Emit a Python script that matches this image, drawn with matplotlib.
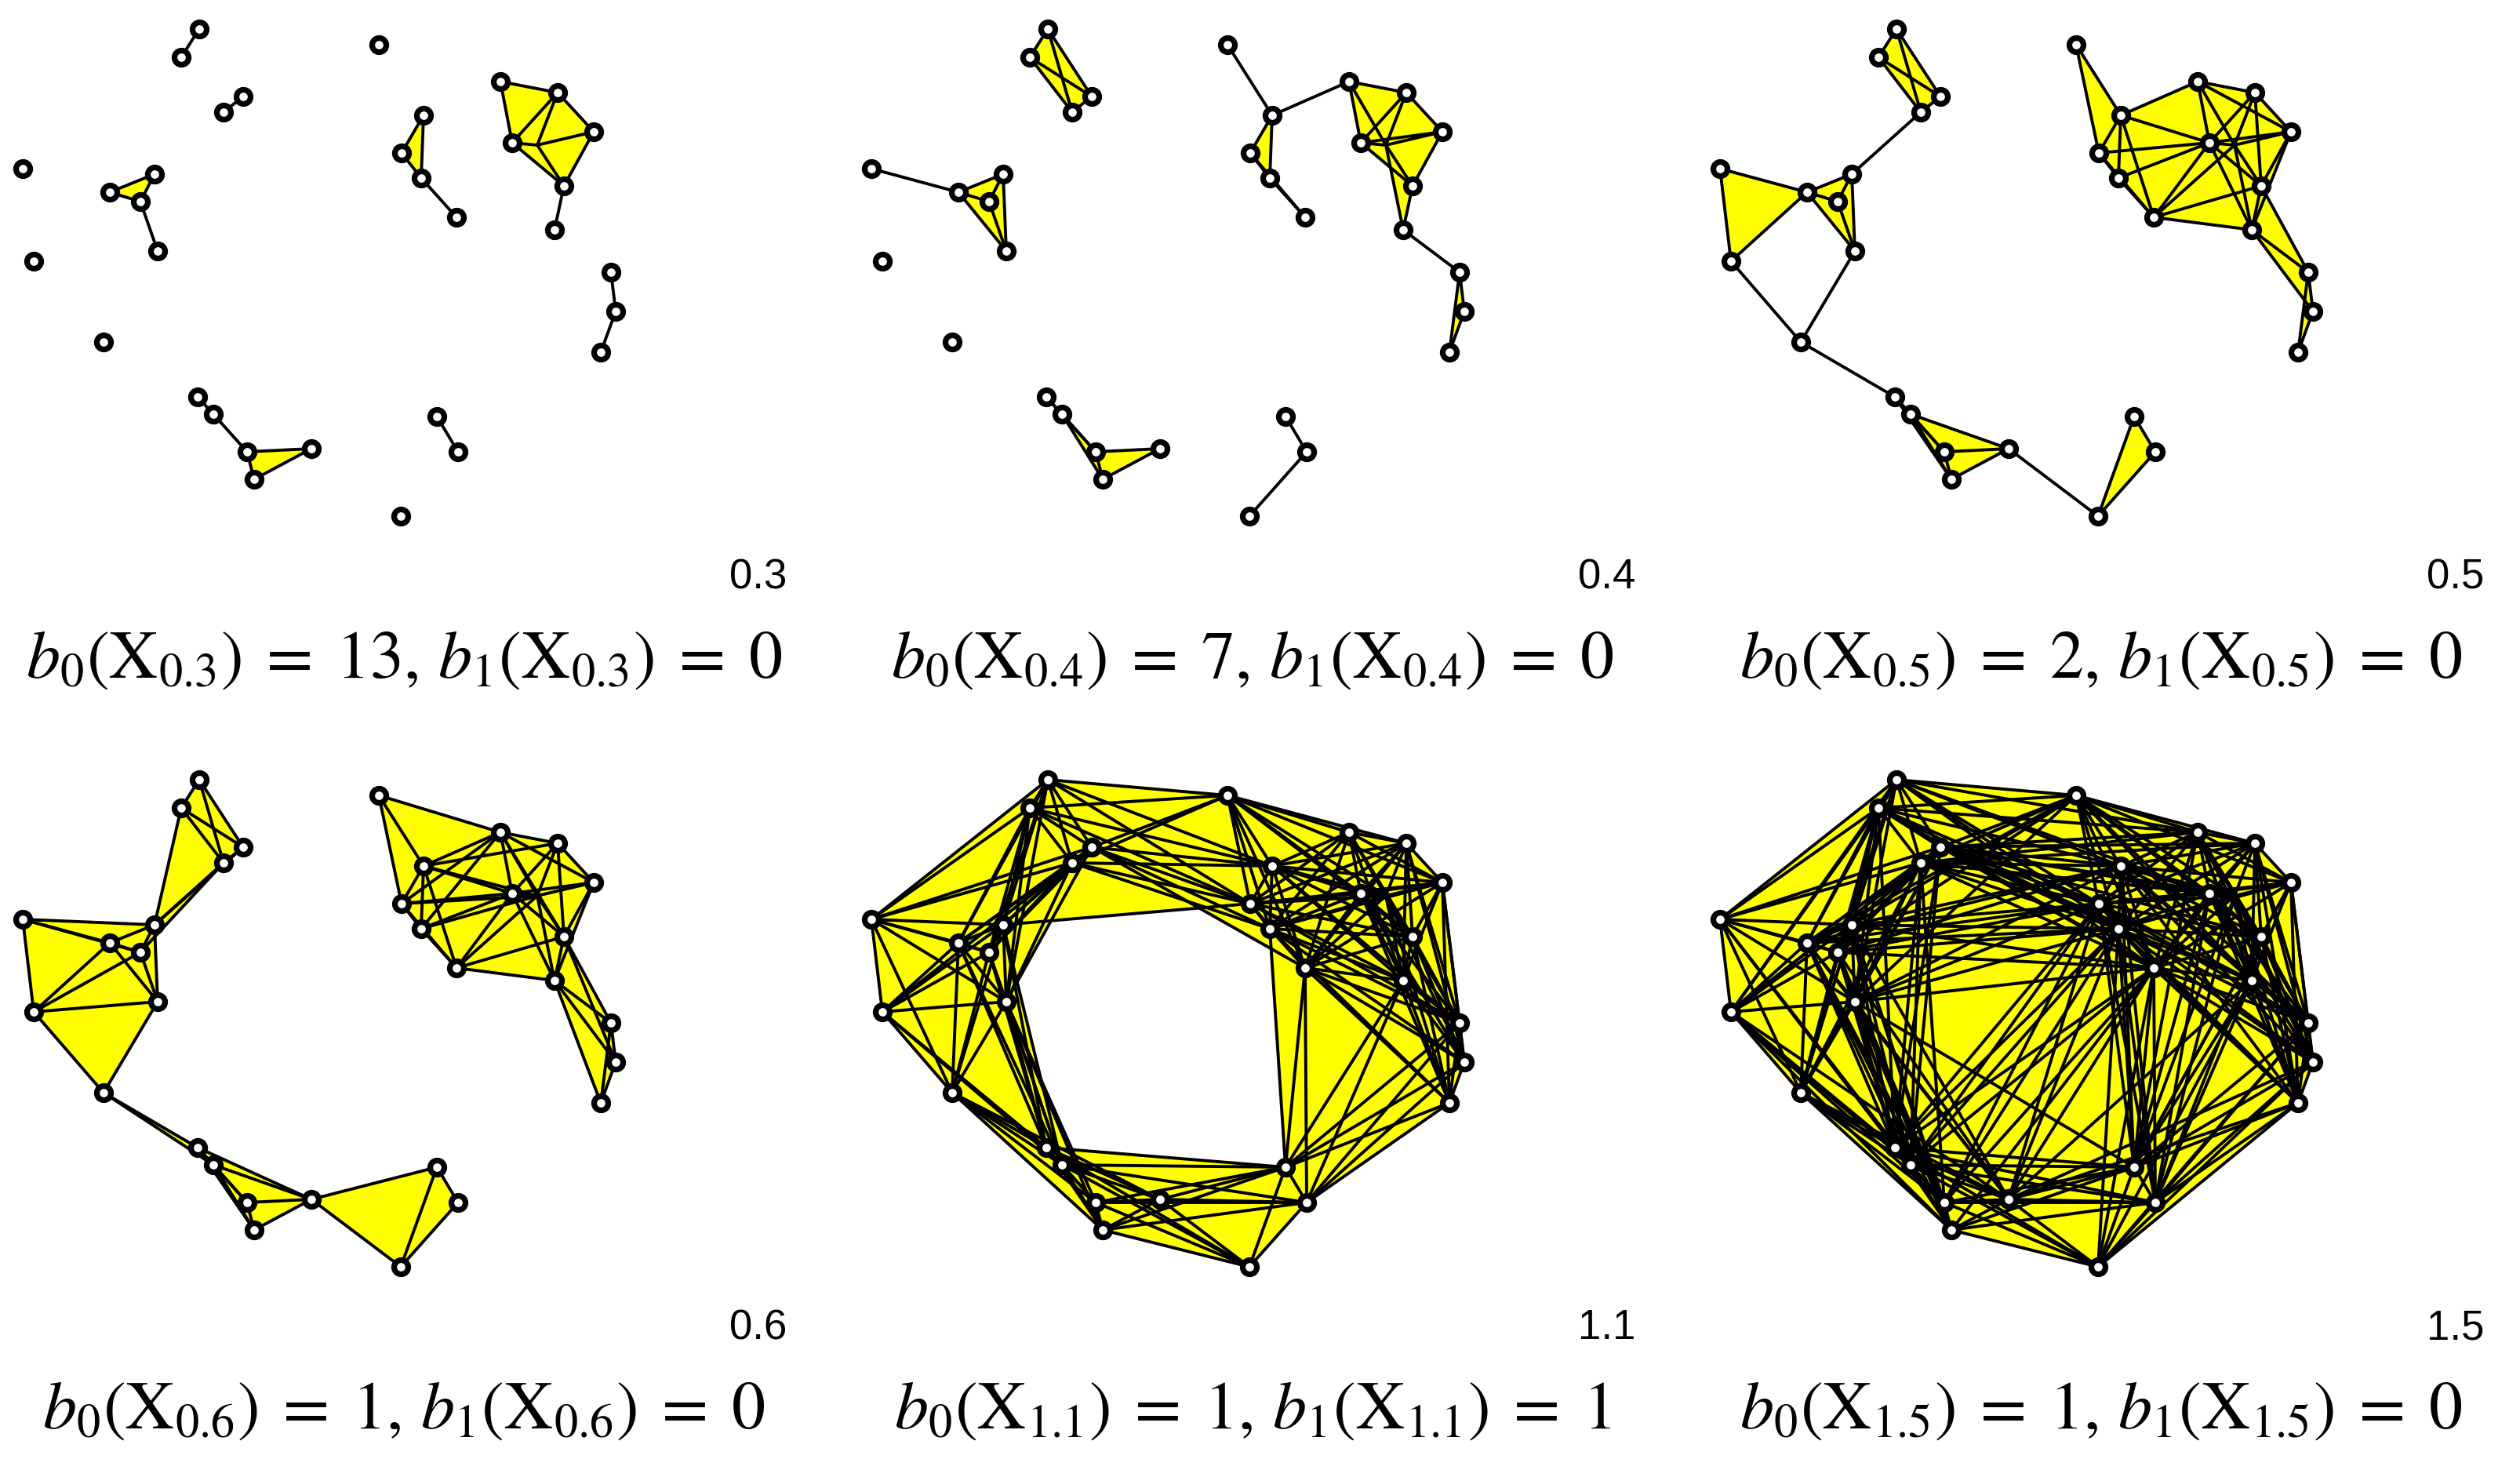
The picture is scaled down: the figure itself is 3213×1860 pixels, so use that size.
import numpy as np
import matplotlib
matplotlib.use("Agg")
import matplotlib.pyplot as plt
from matplotlib.collections import PolyCollection, LineCollection
from itertools import combinations

plt.rcParams['mathtext.fontset'] = 'stix'

# point cloud (in picture units)
px = [254,231,483,310,285,540,512,537,582,638,711,757,653,685,719,707,
      29,197,140,179,201,43,779,785,766,132,252,272,315,397,324,557,584,511]
py = [37,73,57,123,143,147,195,227,277,104,118,168,182,185,237,293,
      215,222,245,257,320,333,347,397,449,436,506,528,576,572,611,531,576,658]
hidden = [13]  # vertex drawn without a marker in the original
radii = [0.3, 0.4, 0.5, 0.6, 1.1, 1.5]
b0 = [13, 7, 2, 1, 1, 1]
b1 = [0, 0, 0, 0, 1, 0]
scale = 290.0  # picture units per unit of distance threshold

P = np.column_stack([px, py]).astype(float)
n = len(P)
D = np.sqrt(((P[:, None, :] - P[None, :, :])**2).sum(-1))
shown = [i for i in range(n) if i not in hidden]

FW, FH = 3213.0, 1860.0
fig = plt.figure(figsize=(FW/200, FH/200), dpi=200)
for k, r in enumerate(radii):
    row, col = divmod(k, 3)
    x0, y0 = col*1082, row*957
    ax = fig.add_axes([x0/FW, 1-(y0+720)/FH, 1040/FW, 720/FH])
    ax.set_xlim(0, 1040); ax.set_ylim(720, 0); ax.axis('off')
    thr = r*scale
    A = D <= thr
    tris = [P[[i, j, l]] for i, j, l in combinations(range(n), 3)
            if A[i, j] and A[i, l] and A[j, l]]
    if tris:
        ax.add_collection(PolyCollection(tris, facecolor='#ffff00', edgecolor='none', zorder=1))
    edges = [P[[i, j]] for i, j in combinations(range(n), 2) if A[i, j]]
    if edges:
        ax.add_collection(LineCollection(edges, colors='black', linewidths=1.4, zorder=2))
    ax.plot(P[shown, 0], P[shown, 1], 'o', ms=6.5, mfc='white', mec='black', mew=2.6, zorder=3)
    fig.text((x0+1003)/FW, 1-(y0+736)/FH, f"{r}", ha='right', va='center',
             fontsize=19, family='Liberation Sans')
    fig.text((x0+515)/FW, 1-(y0+840)/FH,
             rf"$b_0(\mathrm{{X}}_{{{r}}})\;=\;{b0[k]},\, b_1(\mathrm{{X}}_{{{r}}})\;=\;{b1[k]}$",
             ha='center', va='center', fontsize=31)
fig.savefig("out.png", dpi=200, facecolor='white')
